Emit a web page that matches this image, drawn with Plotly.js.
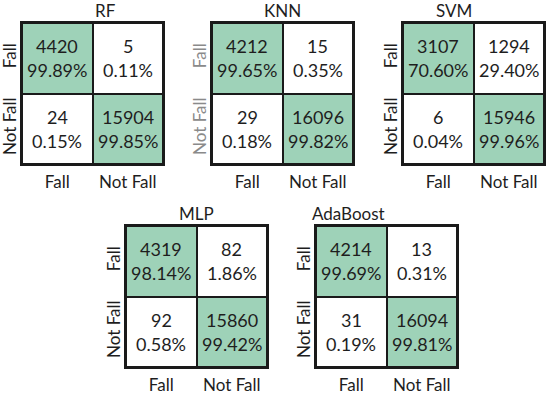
<!DOCTYPE html>
<html><head><meta charset="utf-8">
<script src="https://cdn.plot.ly/plotly-3.0.1.min.js"></script>
<style>html,body{margin:0;padding:0;background:#fff}#chart{width:550px;height:395px}</style>
</head><body><div id="chart"></div>
<script>
const models = ['RF','KNN','SVM','MLP','AdaBoost'];
const classes = ['Fall','Not Fall'];
// counts [[TP, FN],[FP, TN]] rows = true label, cols = predicted
const RF = [[4420, 5],[24, 15904]];
const KNN = [[4212, 15],[29, 16096]];
const SVM = [[3107, 1294],[6, 15946]];
const MLP = [[4319, 82],[92, 15860]];
const AdaBoost = [[4214, 13],[31, 16094]];
const RF_pct = [['99.89%','0.11%'],['0.15%','99.85%']];
const KNN_pct = [['99.65%','0.35%'],['0.18%','99.82%']];
const SVM_pct = [['70.60%','29.40%'],['0.04%','99.96%']];
const MLP_pct = [['98.14%','1.86%'],['0.58%','99.42%']];
const AdaBoost_pct = [['99.69%','0.31%'],['0.19%','99.81%']];

const counts = [RF, KNN, SVM, MLP, AdaBoost];
const pcts = [RF_pct, KNN_pct, SVM_pct, MLP_pct, AdaBoost_pct];

const W = 550, H = 395;
// pixel boxes [left, top, right, bottom]
const boxes = [[22,23,163,164],[212,23,353,164],[403,23,544,164],[126,226,267,367],[316,226,457,367]];
const FONT = 'Lato, "Open Sans", sans-serif';
const green = 'rgb(158,210,184)';
const txt = '#1e1e1e';

const traces = [];
const layout = {
  width: W, height: H, margin:{l:0,r:0,t:0,b:0},
  paper_bgcolor:'#fff', plot_bgcolor:'#1a1a1a',
  showlegend:false, annotations:[], font:{family:FONT, size:17, color:txt}
};

counts.forEach((m, i) => {
  const n = i === 0 ? '' : String(i+1);
  const xa = 'x'+n, ya = 'y'+n;
  const b = boxes[i];
  const z = m.map((row, r) => row.map((v, c) => r === c ? 1 : 0));
  traces.push({
    type:'heatmap', x:classes, y:classes, z:z,
    xaxis:xa, yaxis:ya, xgap:2, ygap:2, zmin:0, zmax:1,
    colorscale:[[0,'#ffffff'],[1,green]], showscale:false, hoverinfo:'skip'
  });
  const ylabColor = models[i] === 'KNN' ? '#8a8a8a' : txt;
  layout['xaxis'+n] = {
    domain:[b[0]/W, b[2]/W], anchor:ya, type:'category', side:'bottom',
    showgrid:false, zeroline:false, showline:true, mirror:true, linecolor:'#1a1a1a', linewidth:2,
    ticks:'', ticklen:0, ticklabelstandoff:2, tickfont:{family:FONT, size:17, color:txt}, fixedrange:true
  };
  layout['yaxis'+n] = {
    domain:[1-b[3]/H, 1-b[1]/H], anchor:xa, type:'category', autorange:'reversed',
    showgrid:false, zeroline:false, showline:true, mirror:true, linecolor:'#1a1a1a', linewidth:2,
    ticks:'', tickangle:-90, ticklabelstandoff:-3, tickfont:{family:FONT, size:17, color:ylabColor}, fixedrange:true
  };
  layout.annotations.push({
    xref:'paper', yref:'paper', x:(b[0]+b[2])/2/W, y:1-b[1]/H, yanchor:'bottom', yshift:0,
    text:models[i], showarrow:false, font:{family:FONT, size:17, color:txt}
  });
  m.forEach((row, r) => row.forEach((v, c) => {
    layout.annotations.push({
      xref:xa, yref:ya, x:classes[c], y:classes[r], yshift:12,
      text: String(v), showarrow:false, font:{family:FONT, size:18, color:txt}
    });
    layout.annotations.push({
      xref:xa, yref:ya, x:classes[c], y:classes[r], yshift:-12,
      text: pcts[i][r][c], showarrow:false, font:{family:FONT, size:18, color:txt}
    });
  }));
});

Plotly.newPlot('chart', traces, layout, {staticPlot:true});
</script></body></html>
